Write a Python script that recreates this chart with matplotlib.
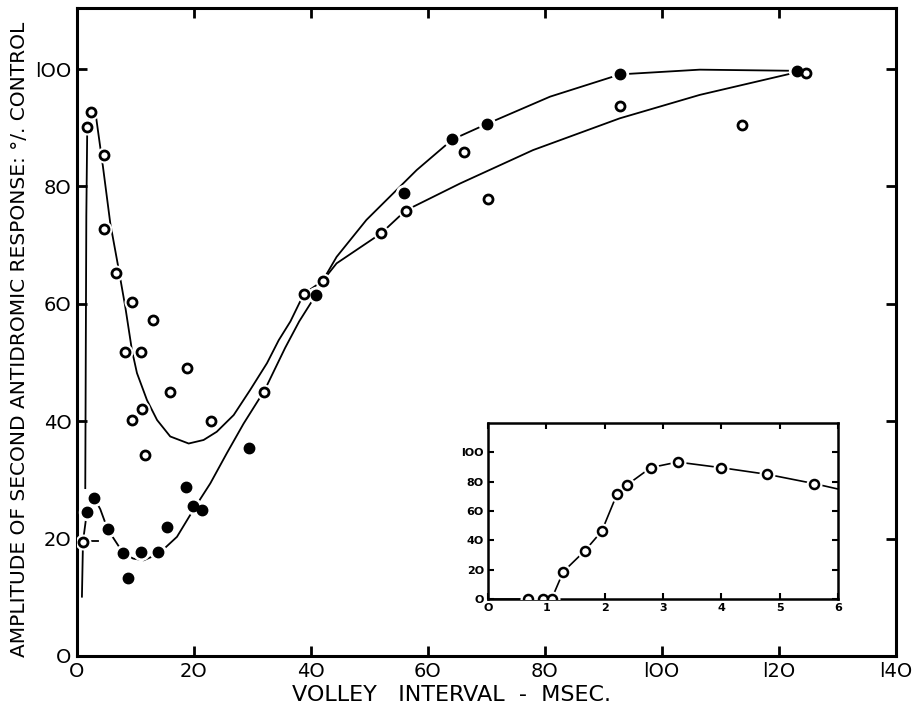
import matplotlib
matplotlib.use("Agg")
import matplotlib.pyplot as plt
import numpy as np

# open circles: volley interval (msec) vs amplitude (% control)
open_x = [1.03, 1.76, 2.34, 4.56, 4.67, 6.6, 8.2, 9.46, 9.46, 10.9, 11.1, 11.6,
          13.05, 15.9, 18.75, 23.0, 32.0, 38.8, 42.0, 52.0, 56.2, 66.2, 70.3,
          92.9, 113.8, 124.7]
open_y = [19.5, 90.2, 92.7, 85.3, 72.7, 65.3, 51.8, 60.3, 40.2, 51.8, 42.0, 34.2,
          57.2, 45.0, 49.1, 40.0, 45.0, 61.7, 63.9, 72.0, 75.9, 85.8, 77.9,
          93.7, 90.5, 99.3]

# filled circles
fill_x = [1.71, 2.96, 5.24, 7.86, 8.77, 10.9, 13.85, 15.4, 18.6, 19.9, 21.3,
          29.5, 40.85, 55.9, 64.2, 70.2, 92.9, 123.1]
fill_y = [24.6, 26.9, 21.6, 17.6, 13.3, 17.8, 17.7, 21.9, 28.8, 25.6, 24.9,
          35.5, 61.5, 78.9, 88.0, 90.7, 99.1, 99.7]

# hand-drawn curve through the open circles
open_curve_x = [1.42, 1.5, 1.6, 1.76, 2.34, 3.3, 4.44, 5.7, 6.95, 8.26, 9.4,
                10.26, 11.97, 13.7, 15.95, 19.1, 21.65, 23.9, 26.8, 29.6, 32.5,
                34.5, 36.5, 38.8, 42.0, 44.4, 52.0, 56.2, 65.5, 78.0, 92.8,
                106.5, 122.4]
open_curve_y = [28.6, 50.0, 75.0, 90.2, 92.7, 91.6, 83.4, 73.7, 66.9, 59.5, 52.1,
                48.2, 43.6, 40.2, 37.4, 36.2, 36.8, 38.2, 41.05, 45.3, 49.9,
                53.8, 57.0, 61.7, 63.9, 66.9, 72.0, 75.9, 80.5, 86.2, 91.6,
                95.6, 99.3]

# hand-drawn curve through the filled circles
fill_curve_x = [0.85, 1.03, 1.71, 2.96, 3.99, 5.24, 7.86, 9.6, 11.4, 13.96, 17.1,
                19.9, 22.8, 25.6, 28.5, 32.1, 35.6, 38.0, 40.85, 42.0, 44.4,
                49.5, 58.1, 64.2, 70.2, 80.9, 92.9, 106.5, 123.1]
fill_curve_y = [10.1, 19.5, 24.6, 26.9, 25.0, 21.6, 17.6, 16.6, 16.3, 17.4, 20.3,
                24.9, 29.4, 34.5, 39.6, 45.3, 52.5, 57.0, 61.5, 63.9, 68.0,
                74.3, 82.8, 88.0, 90.7, 95.3, 99.1, 99.9, 99.7]

# short stroke beside the first open circle
stub_x = [2.0, 3.6]
stub_y = [19.6, 19.6]

# inset: short intervals (msec)
inset_x = [0.0, 0.69, 0.94, 1.09, 1.29, 1.66, 1.95, 2.21, 2.39, 2.79, 3.25,
           3.99, 4.79, 5.59]
inset_y = [0.0, 0.0, 0.0, 0.0, 18.6, 32.9, 46.3, 71.4, 78.0, 89.6, 93.4,
           89.6, 85.0, 78.7]
inset_tail_x = [5.59, 6.0]
inset_tail_y = [78.7, 75.0]

x_ticks = [0, 20, 40, 60, 80, 100, 120, 140]
x_ticklabels = ['O', '2O', '4O', '6O', '8O', 'lOO', 'l2O', 'l4O']
y_ticks = [0, 20, 40, 60, 80, 100]
y_ticklabels = ['O', '2O', '4O', '6O', '8O', 'lOO']


def draw_marks(ax, x, y, filled, size, edge):
    # white halo so curves stop short of each point
    ax.plot(x, y, 'o', ms=size + 4, mfc='white', mec='white', ls='none', zorder=3)
    ax.plot(x, y, 'o', ms=size, mfc='black' if filled else 'white',
            mec='black', mew=edge, ls='none', zorder=4)


plt.rcParams['font.family'] = ['DejaVu Sans']
fig = plt.figure(figsize=(9.13, 7.11), dpi=100)
ax = fig.add_axes([0.0843, 0.0774, 0.8967, 0.9113])

ax.plot(open_curve_x, open_curve_y, color='black', lw=1.3, zorder=2)
ax.plot(fill_curve_x, fill_curve_y, color='black', lw=1.3, zorder=2)
draw_marks(ax, open_x, open_y, False, 6.5, 2.0)
draw_marks(ax, fill_x, fill_y, True, 7.5, 1.0)
ax.plot(stub_x, stub_y, color='black', lw=1.3, zorder=2)

ax.set_xlim(0, 140)
ax.set_ylim(0, 110.4)
ax.set_xticks(x_ticks)
ax.set_xticklabels(x_ticklabels, fontsize=14)
ax.set_yticks(y_ticks)
ax.set_yticklabels(y_ticklabels, fontsize=14)
ax.tick_params(direction='in', length=7, width=2, top=True, right=True, pad=4)
for s in ax.spines.values():
    s.set_linewidth(2.2)

ax.set_xlabel('VOLLEY   INTERVAL  -  MSEC.', fontsize=16, labelpad=2)
ax.xaxis.set_label_coords(0.457, -0.045)
ax.set_ylabel('AMPLITUDE OF SECOND ANTIDROMIC RESPONSE: °/. CONTROL',
              fontsize=14.5, labelpad=0)
ax.yaxis.set_label_coords(-0.058, 0.489)

# inset panel
ins = fig.add_axes([0.5345, 0.1575, 0.3834, 0.2475])
ins.plot(inset_x, inset_y, color='black', lw=1.2, zorder=2)
ins.plot(inset_tail_x, inset_tail_y, color='black', lw=1.2, zorder=2)
draw_marks(ins, inset_x[1:], inset_y[1:], False, 6.5, 1.8)
ins.set_xlim(0, 6)
ins.set_ylim(0, 120)
ins.set_xticks(range(0, 7))
ins.set_xticklabels(['O', '1', '2', '3', '4', '5', '6'], fontsize=8, fontweight='bold')
ins.set_yticks([0, 20, 40, 60, 80, 100])
ins.set_yticklabels(['O', '2O', '4O', '6O', '8O', 'lOO'], fontsize=8, fontweight='bold')
ins.tick_params(direction='in', length=4, width=1.5, top=True, right=True, pad=3)
for s in ins.spines.values():
    s.set_linewidth(1.8)

fig.savefig('out.png', dpi=100)
